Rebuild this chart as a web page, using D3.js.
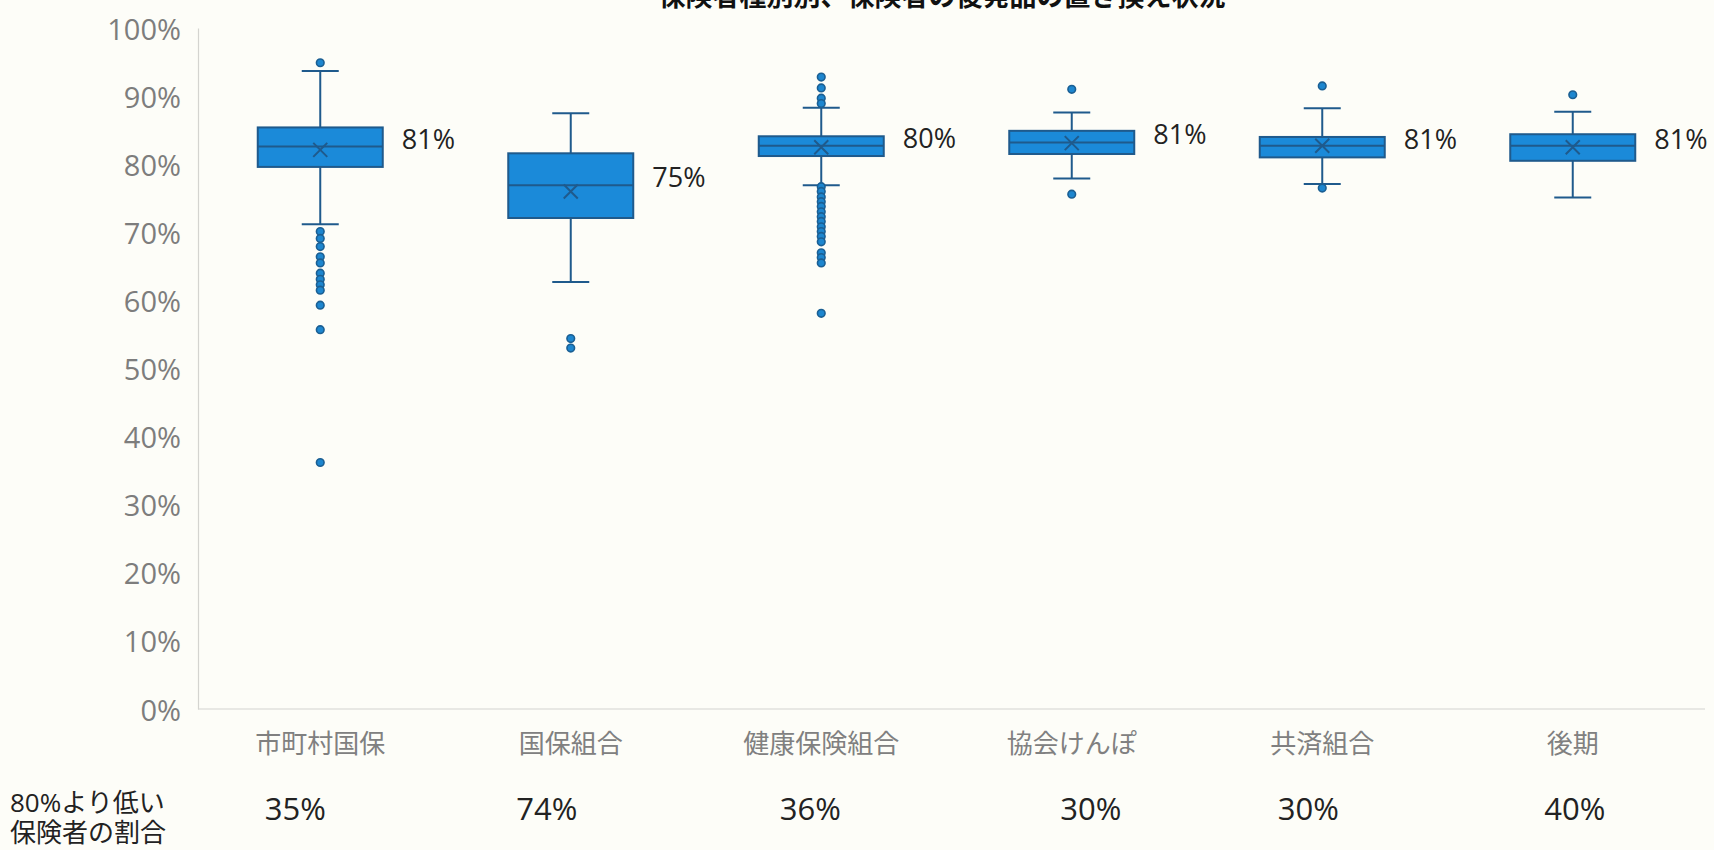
<!DOCTYPE html>
<html lang="ja">
<head>
<meta charset="utf-8">
<script src="https://cdn.jsdelivr.net/npm/d3@7"></script>
<style>
  html, body { margin: 0; padding: 0; background: #fdfdf8; }
  svg { display: block; }
  text { font-family: "Open Sans", "Noto Sans CJK JP", sans-serif; }
</style>
</head>
<body>
<svg id="chart" width="1714" height="850"></svg>
<script>
// 保険者種別
const categories = ["市町村国保", "国保組合", "健康保険組合", "協会けんぽ", "共済組合", "後期"];

// 箱ひげ図の統計量（置き換え率 %）
const whiskerHigh = [93.7, 87.5, 88.3, 87.6, 88.2, 87.7];
const q3Values    = [85.4, 81.6, 84.1, 84.9, 84.0, 84.4];
const medians     = [82.6, 76.9, 82.7, 83.2, 82.7, 82.7];
const q1Values    = [79.6, 72.1, 81.2, 81.5, 81.0, 80.5];
const whiskerLow  = [71.2, 62.7, 76.9, 77.9, 77.1, 75.1];
const means       = [82.1, 76.0, 82.5, 83.1, 82.7, 82.5];

// 外れ値
const outliers = [
  [94.9, 70.1, 69.1, 67.9, 66.4, 65.5, 64.0, 63.1, 62.3, 61.5, 59.3, 55.7, 36.2],
  [54.4, 53.0],
  [92.8, 91.2, 89.7, 88.9, 76.7, 76.0, 75.2, 74.5, 73.8, 73.0, 72.3, 71.6, 70.8,
   70.1, 69.4, 68.6, 67.0, 66.3, 65.5, 58.1],
  [91.0, 75.6],
  [91.5, 76.5],
  [90.2]
];

// 箱の右に添える平均置き換え率
const boxLabels = ["81%", "75%", "80%", "81%", "81%", "81%"];

// 80%より低い保険者の割合
const belowShare = [35, 74, 36, 30, 30, 40];
const belowTitle = ["80%より低い", "保険者の割合"];

// 縦軸目盛
const yTicks = [0, 10, 20, 30, 40, 50, 60, 70, 80, 90, 100];

const chartTitle = "保険者種別別、保険者の後発品の置き換え状況";

// ---- layout ----
const svg = d3.select("#chart");
const boxFill = "#1b8ad9";
const darkBlue = "#1f5a8c";
const axisGray = "#d4d4d0";
const belowNudge = [-25, -24, -11, 19, -14, 2];

const x = d3.scaleBand().domain(categories).range([195, 1698]).paddingInner(0).paddingOuter(0);
const y = d3.scaleLinear().domain([0, 100]).range([709, 28]);
const boxW = 125;
const capW = 37;
const cx = c => x(c) + x.bandwidth() / 2;

// title (upper part falls outside the page edge)
svg.append("text")
  .attr("x", 942).attr("y", 6)
  .attr("text-anchor", "middle")
  .attr("font-size", 27).attr("font-weight", 700)
  .attr("fill", "#111")
  .style("font-family", "'Noto Sans CJK JP', sans-serif")
  .text(chartTitle);

// y axis
const yAxis = d3.axisLeft(y)
  .tickValues(yTicks)
  .tickFormat(d => d + "%")
  .tickSize(0)
  .tickPadding(17);
const gy = svg.append("g").attr("transform", "translate(198,0)").call(yAxis);
gy.select(".domain").attr("stroke", axisGray).attr("stroke-width", 1.2);
gy.selectAll(".tick text")
  .attr("font-size", 29)
  .attr("fill", "#7d7d7d")
  .style("font-family", "'Open Sans', sans-serif")
  .attr("dy", "0.38em");

// baseline
svg.append("line")
  .attr("x1", 198).attr("x2", 1705)
  .attr("y1", y(0)).attr("y2", y(0))
  .attr("stroke", axisGray).attr("stroke-width", 1.2);

// category axis
const xAxis = d3.axisBottom(x).tickSize(0).tickPadding(26);
const gx = svg.append("g").attr("transform", `translate(0,${y(0)})`).call(xAxis);
gx.select(".domain").remove();
gx.selectAll(".tick text")
  .attr("font-size", 26)
  .attr("fill", "#808080")
  .style("font-family", "'Noto Sans CJK JP', sans-serif");

// box plots
const rows = categories.map((c, i) => ({
  c, i,
  hi: whiskerHigh[i], q3: q3Values[i], med: medians[i], q1: q1Values[i],
  lo: whiskerLow[i], mean: means[i], out: outliers[i], label: boxLabels[i]
}));

const g = svg.append("g");
const box = g.selectAll("g.box").data(rows).join("g").attr("class", "box");

// whisker stems
box.append("line")
  .attr("x1", d => cx(d.c)).attr("x2", d => cx(d.c))
  .attr("y1", d => y(d.hi)).attr("y2", d => y(d.lo))
  .attr("stroke", darkBlue).attr("stroke-width", 2);

// whisker caps
["hi", "lo"].forEach(k => {
  box.append("line")
    .attr("x1", d => cx(d.c) - capW / 2).attr("x2", d => cx(d.c) + capW / 2)
    .attr("y1", d => y(d[k])).attr("y2", d => y(d[k]))
    .attr("stroke", darkBlue).attr("stroke-width", 2);
});

// box body
box.append("rect")
  .attr("x", d => cx(d.c) - boxW / 2)
  .attr("width", boxW)
  .attr("y", d => y(d.q3))
  .attr("height", d => y(d.q1) - y(d.q3))
  .attr("fill", boxFill)
  .attr("stroke", darkBlue).attr("stroke-width", 2);

// median
box.append("line")
  .attr("x1", d => cx(d.c) - boxW / 2).attr("x2", d => cx(d.c) + boxW / 2)
  .attr("y1", d => y(d.med)).attr("y2", d => y(d.med))
  .attr("stroke", darkBlue).attr("stroke-width", 2);

// mean marker (x)
const m = 7;
box.append("path")
  .attr("d", d => {
    const px = cx(d.c), py = y(d.mean);
    return `M${px - m},${py - m}L${px + m},${py + m}M${px - m},${py + m}L${px + m},${py - m}`;
  })
  .attr("stroke", darkBlue).attr("stroke-width", 2).attr("fill", "none");

// outliers
box.selectAll("circle")
  .data(d => d.out.map(v => ({ c: d.c, v })))
  .join("circle")
  .attr("cx", d => cx(d.c))
  .attr("cy", d => y(d.v))
  .attr("r", 3.8)
  .attr("fill", "#1d86cf")
  .attr("stroke", "#1b5f93").attr("stroke-width", 1.6);

// value labels beside boxes
box.append("text")
  .attr("x", d => cx(d.c) + boxW / 2 + 19)
  .attr("y", d => (y(d.q3) + y(d.q1)) / 2 - 8)
  .attr("dy", "0.36em")
  .attr("font-size", 27)
  .attr("fill", "#222")
  .text(d => d.label);

// share of insurers below 80%
svg.append("g").selectAll("text")
  .data(belowShare)
  .join("text")
  .attr("x", (d, i) => cx(categories[i]) + belowNudge[i])
  .attr("y", 809)
  .attr("dy", "0.36em")
  .attr("text-anchor", "middle")
  .attr("font-size", 31)
  .attr("fill", "#222")
  .text(d => d + "%");

// row heading, two lines in one text block
svg.append("text")
  .attr("x", 10)
  .attr("y", 803)
  .attr("font-size", 26)
  .attr("fill", "#222")
  .style("font-family", "'Open Sans', 'Noto Sans CJK JP', sans-serif")
  .selectAll("tspan")
  .data(belowTitle)
  .join("tspan")
  .attr("x", 10)
  .attr("y", (d, i) => 803 + i * 30)
  .attr("dy", "0.36em")
  .text(d => d);
</script>
</body>
</html>
